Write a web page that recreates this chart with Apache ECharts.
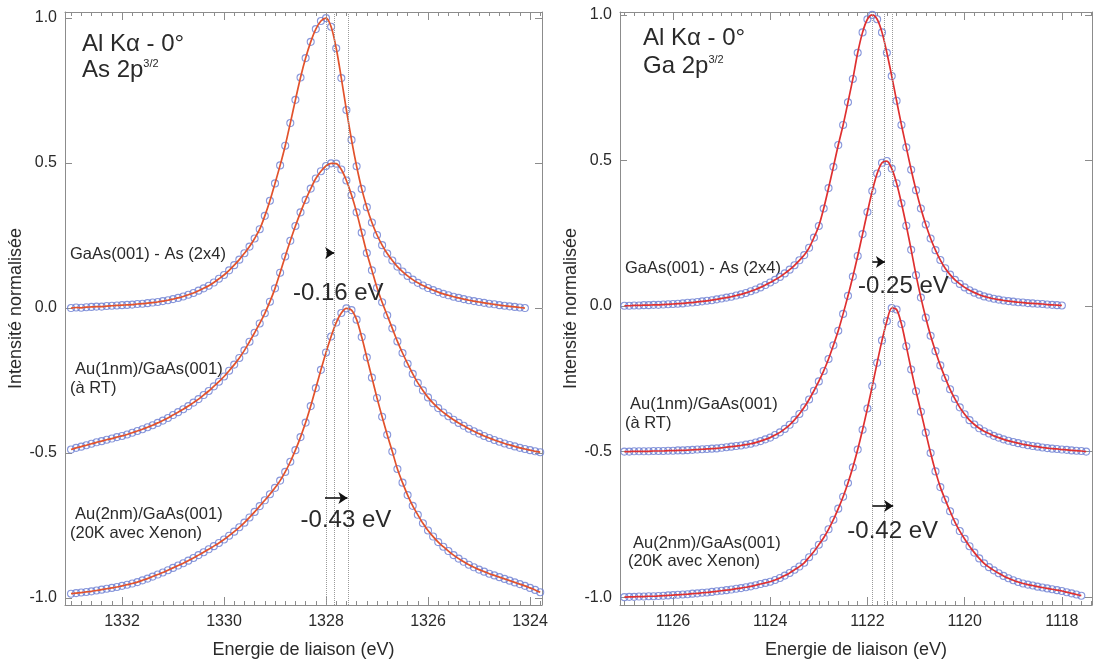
<!DOCTYPE html>
<html>
<head>
<meta charset="utf-8">
<script src="https://cdn.jsdelivr.net/npm/echarts@6/dist/echarts.min.js"></script>
<style>html,body{margin:0;padding:0;background:#fff}#c{width:1095px;height:666px}</style>
</head>
<body>
<div id="c"></div>
<script>
// ---------- DATA ----------
const energyStep = 0.1;            // eV between sampled points
// Left panel : As 2p3/2 (spectra start at 1333.0 eV, decreasing)
const leftStartEnergy = 1333.0;
const asGaAs = [
 0.000,0.002,0.001,0.003,0.004,0.005,0.005,0.007,0.008,0.009,
 0.010,0.011,0.012,0.014,0.015,0.017,0.019,0.021,0.024,0.027,
 0.031,0.035,0.040,0.046,0.052,0.060,0.068,0.077,0.088,0.101,
 0.114,0.130,0.148,0.167,0.189,0.212,0.240,0.272,0.318,0.370,
 0.430,0.492,0.560,0.638,0.718,0.795,0.862,0.918,0.962,0.990,
 1.000,0.970,0.896,0.793,0.683,0.580,0.489,0.411,0.348,0.295,
 0.252,0.217,0.188,0.164,0.143,0.126,0.111,0.098,0.087,0.078,
 0.069,0.062,0.055,0.049,0.044,0.039,0.035,0.031,0.027,0.024,
 0.021,0.018,0.015,0.013,0.010,0.008,0.006,0.004,0.002,0.000];
const asAu1nm = [
 -0.488,-0.482,-0.478,-0.473,-0.468,-0.463,-0.459,-0.454,-0.450,-0.445,
 -0.441,-0.436,-0.430,-0.424,-0.418,-0.411,-0.404,-0.396,-0.388,-0.379,
 -0.369,-0.359,-0.349,-0.338,-0.326,-0.314,-0.300,-0.286,-0.270,-0.254,
 -0.236,-0.216,-0.195,-0.172,-0.146,-0.116,-0.085,-0.053,-0.018,0.022,
 0.068,0.122,0.178,0.232,0.283,0.330,0.373,0.412,0.447,0.472,
 0.490,0.499,0.498,0.478,0.440,0.390,0.330,0.260,0.190,0.130,
 0.070,0.020,-0.025,-0.070,-0.115,-0.155,-0.192,-0.227,-0.258,-0.284,
 -0.308,-0.328,-0.345,-0.360,-0.373,-0.385,-0.396,-0.406,-0.416,-0.425,
 -0.433,-0.441,-0.448,-0.455,-0.461,-0.467,-0.472,-0.477,-0.482,-0.486,
 -0.490,-0.494,-0.497];
const asAu2nm = [
 -0.985,-0.983,-0.981,-0.979,-0.977,-0.974,-0.971,-0.968,-0.965,-0.962,
 -0.958,-0.954,-0.950,-0.945,-0.939,-0.933,-0.926,-0.919,-0.912,-0.904,
 -0.896,-0.888,-0.880,-0.871,-0.862,-0.852,-0.842,-0.832,-0.821,-0.810,
 -0.798,-0.785,-0.771,-0.756,-0.740,-0.722,-0.703,-0.683,-0.663,-0.642,
 -0.620,-0.595,-0.565,-0.530,-0.490,-0.445,-0.395,-0.338,-0.276,-0.213,
 -0.153,-0.098,-0.050,-0.017,-0.001,-0.007,-0.040,-0.100,-0.170,-0.240,
 -0.310,-0.375,-0.437,-0.495,-0.555,-0.602,-0.645,-0.682,-0.713,-0.742,
 -0.767,-0.788,-0.807,-0.823,-0.838,-0.852,-0.864,-0.875,-0.885,-0.894,
 -0.902,-0.909,-0.916,-0.922,-0.928,-0.934,-0.940,-0.946,-0.952,-0.958,
 -0.965,-0.972,-0.980];
// Right panel : Ga 2p3/2 (spectra start at 1127.0 eV, decreasing)
const rightStartEnergy = 1127.0;
const gaGaAs = [
 0.001,0.001,0.002,0.002,0.003,0.003,0.004,0.004,0.005,0.006,
 0.007,0.008,0.009,0.011,0.012,0.014,0.016,0.018,0.020,0.023,
 0.026,0.029,0.032,0.036,0.040,0.045,0.051,0.057,0.064,0.072,
 0.081,0.090,0.100,0.112,0.125,0.140,0.157,0.175,0.200,0.235,
 0.275,0.335,0.405,0.478,0.553,0.622,0.700,0.780,0.870,0.940,
 0.985,1.000,0.985,0.940,0.870,0.790,0.705,0.622,0.545,0.468,
 0.398,0.335,0.280,0.232,0.192,0.158,0.130,0.108,0.090,0.076,
 0.064,0.054,0.046,0.039,0.033,0.029,0.025,0.022,0.019,0.017,
 0.015,0.013,0.012,0.010,0.009,0.008,0.007,0.005,0.004,0.003,
 0.002];
const gaAu1nm = [
 -0.500,-0.500,-0.499,-0.499,-0.499,-0.499,-0.498,-0.498,-0.498,-0.497,
 -0.497,-0.496,-0.496,-0.495,-0.494,-0.493,-0.492,-0.491,-0.490,-0.489,
 -0.487,-0.485,-0.483,-0.481,-0.479,-0.476,-0.473,-0.469,-0.464,-0.458,
 -0.452,-0.443,-0.434,-0.422,-0.408,-0.391,-0.371,-0.348,-0.321,-0.291,
 -0.259,-0.223,-0.182,-0.135,-0.085,-0.027,0.035,0.101,0.172,0.247,
 0.323,0.395,0.455,0.492,0.498,0.472,0.422,0.353,0.276,0.193,
 0.106,0.029,-0.040,-0.102,-0.155,-0.204,-0.247,-0.286,-0.319,-0.348,
 -0.372,-0.392,-0.407,-0.420,-0.430,-0.438,-0.446,-0.452,-0.458,-0.463,
 -0.467,-0.471,-0.475,-0.478,-0.481,-0.483,-0.486,-0.488,-0.490,-0.491,
 -0.493,-0.494,-0.496,-0.497,-0.498,-0.500];
const gaAu2nm = [
 -1.000,-0.999,-0.999,-0.998,-0.998,-0.997,-0.997,-0.996,-0.995,-0.994,
 -0.993,-0.992,-0.991,-0.990,-0.988,-0.987,-0.985,-0.984,-0.982,-0.980,
 -0.978,-0.976,-0.974,-0.971,-0.969,-0.966,-0.963,-0.959,-0.955,-0.951,
 -0.947,-0.941,-0.934,-0.926,-0.917,-0.906,-0.895,-0.882,-0.863,-0.843,
 -0.820,-0.796,-0.767,-0.734,-0.696,-0.655,-0.608,-0.554,-0.493,-0.425,
 -0.352,-0.275,-0.195,-0.118,-0.052,-0.007,-0.012,-0.062,-0.138,-0.218,
 -0.293,-0.363,-0.435,-0.505,-0.568,-0.622,-0.665,-0.705,-0.742,-0.773,
 -0.800,-0.825,-0.847,-0.867,-0.884,-0.897,-0.908,-0.918,-0.927,-0.935,
 -0.942,-0.948,-0.953,-0.957,-0.960,-0.964,-0.967,-0.970,-0.973,-0.976,
 -0.979,-0.983,-0.987,-0.991,-0.995];

// Tick labels
const leftEnergyTicks = [1332, 1330, 1328, 1326, 1324];
const rightEnergyTicks = [1126, 1124, 1122, 1120, 1118];
const intensityTicks = [-1, -0.5, 0, 0.5, 1];
// Peak positions (dotted guides) and shifts
const leftPeaks = [1328.0, 1327.84, 1327.57];
const rightPeaks = [1121.9, 1121.65, 1121.48];
const leftShiftLabels = ['-0.16 eV', '-0.43 eV'];
const rightShiftLabels = ['-0.25 eV', '-0.42 eV'];
const sampleLabels = ['GaAs(001) - As (2x4)', 'Au(1nm)/GaAs(001)', '(à RT)', 'Au(2nm)/GaAs(001)', '(20K avec Xenon)'];
const titleLine1 = 'Al Kα - 0°';
const leftCore = 'As 2p', rightCore = 'Ga 2p', coreSup = '3/2';

// ---------- CHART ----------
const FONT = '"Liberation Sans", Arial, Helvetica, sans-serif';
const AX = '#8c8c8c';
const TXT = '#2a2a2a';
const CIRCLE = '#6a7dd2';
const RED_L = '#e2522c';
const RED_R = '#df3030';

const chart = echarts.init(document.getElementById('c'));

const leftRange = [1323.765, 1333.118];
const rightRange = [1117.38, 1127.09];
const leftY = [-1.024, 1.021];
const rightY = [-1.027, 1.010];

function pairs(start, arr) {
  return arr.map((v, i) => [Math.round((start - i * energyStep) * 100) / 100, v]);
}
function minorValues(lo, hi) {
  const out = [];
  for (let k = Math.ceil(lo * 5); k <= Math.floor(hi * 5); k++) if (k % 10 !== 0) out.push(k / 5);
  return out;
}
function mainXAxes(g, r, majors) {
  const base = { type: 'value', gridIndex: g, min: r[0], max: r[1], inverse: true, splitLine: { show: false } };
  return [
    Object.assign({}, base, { position: 'bottom',
      axisLine: { show: true, onZero: false, lineStyle: { color: AX, width: 1 } },
      axisTick: { show: true, inside: true, length: 8, customValues: majors, lineStyle: { color: AX } },
      axisLabel: { show: true, customValues: majors, formatter: v => String(v), margin: 9, fontSize: 16, color: TXT, fontFamily: FONT },
      name: 'Energie de liaison (eV)', nameLocation: 'middle', nameGap: 36,
      nameTextStyle: { fontSize: 18, color: TXT, fontFamily: FONT } }),
    Object.assign({}, base, { position: 'top',
      axisLine: { show: true, onZero: false, lineStyle: { color: AX, width: 1 } },
      axisTick: { show: true, inside: true, length: 8, customValues: majors, lineStyle: { color: AX } },
      axisLabel: { show: true, customValues: majors, formatter: () => '' } })
  ];
}
function minorXAxes(g, r) {
  const minors = minorValues(r[0], r[1]);
  const base = { type: 'value', gridIndex: g, min: r[0], max: r[1], inverse: true, splitLine: { show: false },
    axisLine: { show: false, onZero: false },
    axisTick: { show: true, inside: true, length: 4, customValues: minors, lineStyle: { color: AX, width: 1 } },
    axisLabel: { show: true, customValues: minors, formatter: () => '' } };
  return [Object.assign({}, base, { position: 'bottom' }), Object.assign({}, base, { position: 'top' })];
}
function mainYAxes(g, r) {
  const base = { type: 'value', gridIndex: g, min: r[0], max: r[1], splitLine: { show: false } };
  return [
    Object.assign({}, base, { position: 'left',
      axisLine: { show: true, onZero: false, lineStyle: { color: AX, width: 1 } },
      axisTick: { show: true, inside: true, length: 7, customValues: intensityTicks, lineStyle: { color: AX } },
      axisLabel: { show: true, customValues: intensityTicks, formatter: v => Number(v).toFixed(1), margin: 8, fontSize: 16, color: TXT, fontFamily: FONT },
      name: 'Intensité normalisée', nameLocation: 'middle', nameGap: 33, nameRotate: 90,
      nameTextStyle: { fontSize: 18, color: TXT, fontFamily: FONT } }),
    Object.assign({}, base, { position: 'right',
      axisLine: { show: true, onZero: false, lineStyle: { color: AX, width: 1 } },
      axisTick: { show: true, inside: true, length: 7, customValues: intensityTicks, lineStyle: { color: AX } },
      axisLabel: { show: false } })
  ];
}
function curve(start, arr, xi, yi, color, extra) {
  const data = pairs(start, arr);
  return [
    { type: 'scatter', xAxisIndex: xi, yAxisIndex: yi, data, symbol: 'circle', symbolSize: 7,
      itemStyle: { color: 'rgba(0,0,0,0)', borderColor: CIRCLE, borderWidth: 1.1 }, z: 2, silent: true },
    Object.assign({ type: 'line', xAxisIndex: xi, yAxisIndex: yi, data, smooth: 0.3, showSymbol: false,
      lineStyle: { color, width: 1.7 }, z: 3, silent: true }, extra || {})
  ];
}
function guides(peaks) {
  return { silent: true, symbol: ['none', 'none'], label: { show: false },
    lineStyle: { type: 'dotted', color: '#9a9a9a', width: 1 },
    data: peaks.map(p => ({ xAxis: p })) };
}
function arrows(list) {
  return { silent: true, symbol: ['none', 'arrow'], symbolSize: 9, label: { show: false },
    lineStyle: { type: 'solid', color: '#111', width: 1.6 },
    data: list.map(a => [{ coord: [a[0], a[2]] }, { coord: [a[1], a[2]] }]) };
}
function shiftTexts(list) {
  return { silent: true, symbol: 'rect', symbolSize: 1, itemStyle: { color: 'rgba(0,0,0,0)' },
    label: { show: true, position: 'inside', formatter: p => p.name, fontSize: 24, color: TXT, fontFamily: FONT },
    data: list.map(t => ({ name: t[0], coord: [t[1], t[2]] })) };
}

// annotation anchors in data coordinates: [from eV, to eV, intensity]
const leftArrows = [[1327.99, 1327.84, 0.19], [1328.02, 1327.58, -0.655]];
const rightArrows = [[1121.9, 1121.64, 0.151], [1121.9, 1121.47, -0.687]];
const leftTexts = [[leftShiftLabels[0], 1327.76, 0.052], [leftShiftLabels[1], 1327.61, -0.731]];
const rightTexts = [[rightShiftLabels[0], 1121.26, 0.069], [rightShiftLabels[1], 1121.48, -0.773]];

// axis indices: grid0 -> x0,x1 / y0,y1 ; grid1 -> x2,x3 / y2,y3 ; grids 2,3 are minor-tick overlays
const series = [].concat(
  curve(leftStartEnergy, asGaAs, 0, 0, RED_L, { markLine: guides(leftPeaks) }),
  curve(leftStartEnergy, asAu1nm, 0, 0, RED_L, { markLine: arrows(leftArrows) }),
  curve(leftStartEnergy, asAu2nm, 0, 0, RED_L, { markPoint: shiftTexts(leftTexts) }),
  curve(rightStartEnergy, gaGaAs, 2, 2, RED_R, { markLine: guides(rightPeaks) }),
  curve(rightStartEnergy, gaAu1nm, 2, 2, RED_R, { markLine: arrows(rightArrows) }),
  curve(rightStartEnergy, gaAu2nm, 2, 2, RED_R, { markPoint: shiftTexts(rightTexts) })
);

function label(text, left, top) {
  return { type: 'text', left, top, silent: true,
    style: { text, fontSize: 16.5, fontFamily: FONT, fill: TXT } };
}
function title(core, left, top1, top2) {
  return [
    { type: 'text', left, top: top1, silent: true, style: { text: titleLine1, fontSize: 24, fontFamily: FONT, fill: TXT } },
    { type: 'text', left, top: top2, silent: true, style: {
      text: '{m|' + core + '}{s|' + coreSup + '}',
      rich: { m: { fontSize: 24, fontFamily: FONT, fill: TXT },
              s: { fontSize: 11, fontFamily: FONT, fill: TXT, verticalAlign: 'top' } } } }
  ];
}

const graphic = [].concat(
  title(leftCore, 82, 32, 58),
  title(rightCore, 643, 26, 54),
  [label(sampleLabels[0], 70, 246), label(sampleLabels[1], 75, 361), label(sampleLabels[2], 70, 380),
   label(sampleLabels[3], 75, 506), label(sampleLabels[4], 70, 525),
   label(sampleLabels[0], 625, 260), label(sampleLabels[1], 630, 396), label(sampleLabels[2], 625, 415),
   label(sampleLabels[3], 633, 535), label(sampleLabels[4], 628, 553)]
);

const leftGrid = { left: 65, top: 12, width: 477, height: 593, containLabel: false, outerBoundsMode: 'none' };
const rightGrid = { left: 620, top: 12, width: 472, height: 593, containLabel: false, outerBoundsMode: 'none' };

chart.setOption({
  animation: false,
  backgroundColor: '#ffffff',
  grid: [leftGrid, rightGrid, Object.assign({}, leftGrid), Object.assign({}, rightGrid)],
  xAxis: [].concat(
    mainXAxes(0, leftRange, leftEnergyTicks),
    mainXAxes(1, rightRange, rightEnergyTicks),
    minorXAxes(2, leftRange),
    minorXAxes(3, rightRange)),
  yAxis: [].concat(
    mainYAxes(0, leftY),
    mainYAxes(1, rightY),
    [{ type: 'value', gridIndex: 2, min: leftY[0], max: leftY[1], show: false },
     { type: 'value', gridIndex: 3, min: rightY[0], max: rightY[1], show: false }]),
  series,
  graphic
});
</script>
</body>
</html>
